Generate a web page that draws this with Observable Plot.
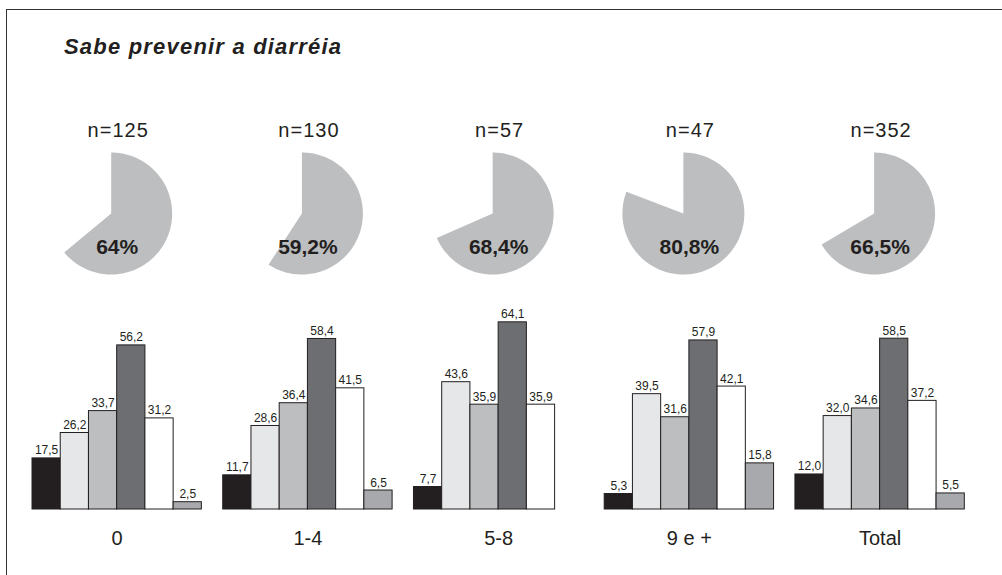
<!DOCTYPE html>
<html><head><meta charset="utf-8">
<script src="https://cdn.jsdelivr.net/npm/d3@7"></script>
<script src="https://cdn.jsdelivr.net/npm/@observablehq/plot@0.6"></script>
<style>
body{margin:0;background:#fff;font-family:"Liberation Sans",Arial,sans-serif;}
#wrap{position:relative;width:1002px;height:575px;overflow:hidden;background:#fff;}
#frame{position:absolute;left:6px;top:9px;width:1100px;height:700px;border-left:1.5px solid #333;border-top:1.5px solid #333;}
#title{position:absolute;left:64px;top:36px;line-height:22px;font-weight:bold;font-style:italic;font-size:22px;letter-spacing:1.2px;color:#231f20;white-space:nowrap;}
#pies{position:absolute;left:0;top:0;}
#bars{position:absolute;left:0;top:290px;}
</style></head>
<body>
<div id="wrap">
  <div id="frame"></div>
  <div id="title">Sabe prevenir a diarréia</div>
  <div id="pies"></div>
  <div id="bars"></div>
</div>
<script>
// ---- data ----
const groups = ["0", "1-4", "5-8", "9 e +", "Total"];
const sampleSizes = [125, 130, 57, 47, 352];
const knowPct = [64, 59.2, 68.4, 80.8, 66.5];
const categories = ["cat1", "cat2", "cat3", "cat4", "cat5", "cat6"];
const catColors = ["#231f20", "#e6e7e8", "#bcbec0", "#6d6e71", "#ffffff", "#a7a9ac"];
const vals0     = [17.5, 26.2, 33.7, 56.2, 31.2, 2.5];
const vals1to4  = [11.7, 28.6, 36.4, 58.4, 41.5, 6.5];
const vals5to8  = [7.7, 43.6, 35.9, 64.1, 35.9, null];
const vals9plus = [5.3, 39.5, 31.6, 57.9, 42.1, 15.8];
const valsTotal = [12.0, 32.0, 34.6, 58.5, 37.2, 5.5];

const seriesByGroup = [vals0, vals1to4, vals5to8, vals9plus, valsTotal];
const fmt = v => Number.isInteger(v) ? String(v) : v.toFixed(1).replace(".", ",");
const fmt1 = v => v.toFixed(1).replace(".", ",");

// ---- shared layout ----
const W = 1002, ML = 32, MR = 37.7;
const fxOpts = {domain: groups, paddingInner: 0.112, paddingOuter: 0, round: false, axis: null, label: null};
const font = {fontFamily: '"Liberation Sans", Arial, sans-serif', color: "#231f20", background: "transparent", overflow: "visible"};

// ---- pies ----
const pieInfo = groups.map((g, i) => ({g, n: sampleSizes[i], p: knowPct[i]}));
const piePts = [];
pieInfo.forEach(d => {
  piePts.push({g: d.g, x: 0, y: 0});
  const N = Math.max(2, Math.round(d.p * 2));
  for (let k = 0; k <= N; k++) {
    const t = (d.p / 100) * 2 * Math.PI * k / N;
    piePts.push({g: d.g, x: Math.sin(t), y: Math.cos(t)});
  }
});

const pies = Plot.plot({
  width: W, height: 290,
  marginLeft: ML, marginRight: MR, marginTop: 0, marginBottom: 0,
  style: font,
  fx: fxOpts,
  x: {domain: [-1.389, 1.389], axis: null},
  y: {domain: [-1.262, 3.492], axis: null},
  marks: [
    Plot.line(piePts, {fx: "g", x: "x", y: "y", z: "g", fill: "#bcbec0", stroke: "none", dx: -6}),
    Plot.text(pieInfo, {fx: "g", x: () => 0, y: () => 1.262, text: d => "n=" + d.n, dx: 1,
      lineAnchor: "bottom", fontSize: 20, fill: "#231f20"}),
    Plot.text(pieInfo, {fx: "g", x: () => 0, y: () => -0.552, text: d => fmt(d.p) + "%",
      lineAnchor: "middle", fontSize: 21, fontWeight: "bold", fill: "#231f20"})
  ]
});
// slightly wider spacing of the "n=" labels as in the original print
pies.querySelectorAll("text").forEach(t => {
  if (t.textContent.startsWith("n=")) t.style.letterSpacing = "1px";
});
document.getElementById("pies").append(pies);

// ---- bars ----
const barData = [];
groups.forEach((g, i) => {
  seriesByGroup[i].forEach((v, j) => {
    if (v != null) barData.push({g, c: categories[j], v});
  });
});

const bars = Plot.plot({
  width: W, height: 285,
  marginLeft: ML, marginRight: MR, marginTop: 14.6, marginBottom: 66,
  style: font,
  fx: {...fxOpts, axis: null},
  x: {domain: categories, padding: 0, round: false, axis: null},
  y: {domain: [0, 70], axis: null},
  color: {type: "ordinal", domain: categories, range: catColors},
  marks: [
    Plot.barY(barData, {fx: "g", x: "c", y: "v", fill: "c", stroke: "#231f20", strokeWidth: 1, inset: 0}),
    Plot.text(barData, {fx: "g", x: "c", y: "v", text: d => fmt1(d.v), dy: -4,
      lineAnchor: "bottom", fontSize: 12, fill: "#231f20"}),
    Plot.axisFx({anchor: "bottom", tickSize: 0, tickPadding: 21, fontSize: 20, label: null, fill: "#231f20"})
  ]
});
document.getElementById("bars").append(bars);
</script>
</body></html>
